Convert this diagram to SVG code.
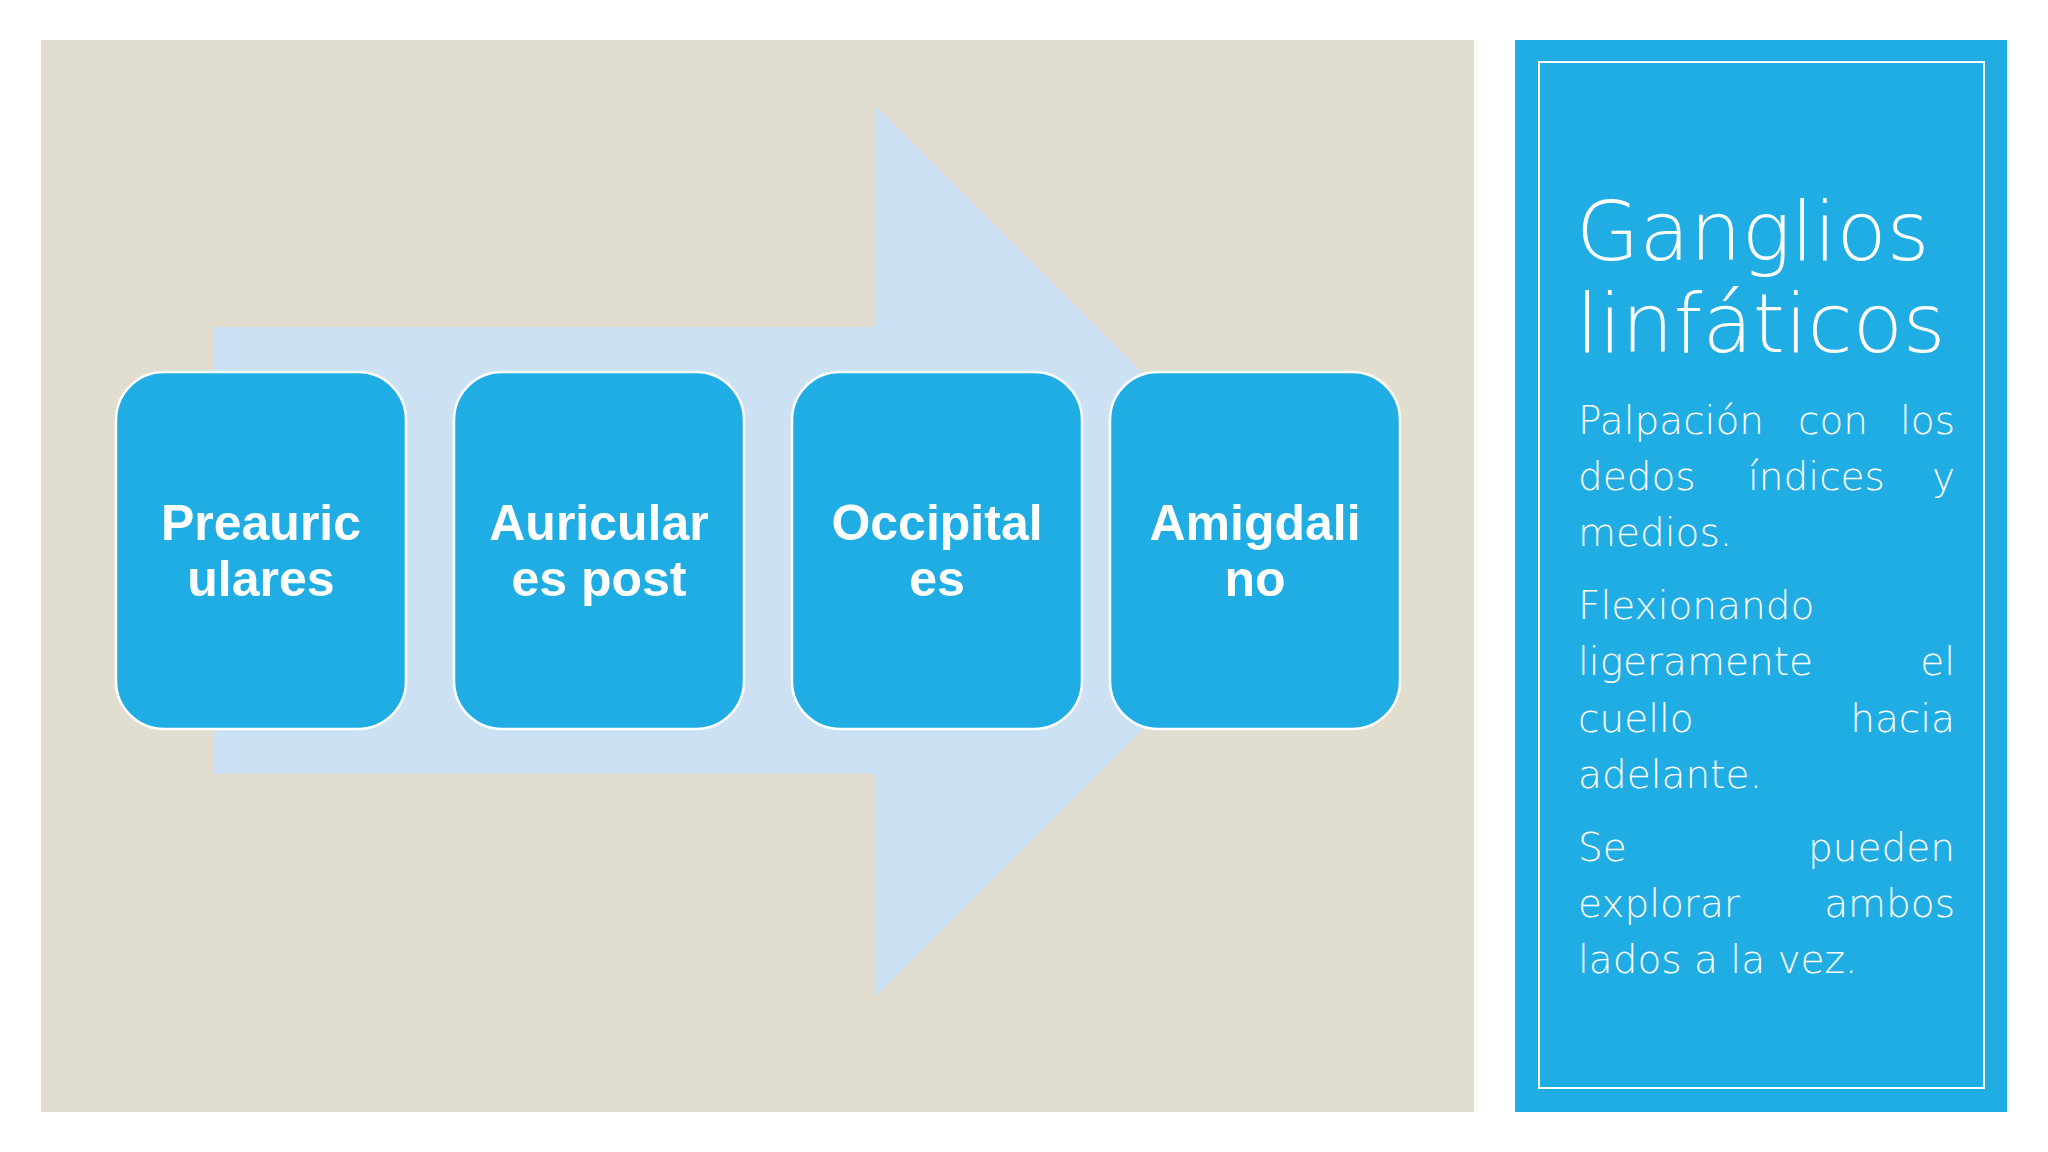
<svg xmlns="http://www.w3.org/2000/svg" width="2048" height="1152" viewBox="0 0 2048 1152">
<style>
.box{fill:#1FADE3;stroke:#FFFFFF;stroke-width:2.5}
.bt{font-family:"Liberation Sans",Arial,sans-serif;font-weight:bold;font-size:50px;fill:#FFFFFF;text-anchor:middle}
.title{font-family:"DejaVu Sans","Liberation Sans",sans-serif;font-weight:200;font-size:82px;fill:#FFFFFF}
.body{font-family:"DejaVu Sans","Liberation Sans",sans-serif;font-weight:200;font-size:39px;fill:#FFFFFF}
.e{text-anchor:end}
</style>
<rect x="0" y="0" width="2048" height="1152" fill="#FFFFFF"/>
<rect id="background" x="41" y="40" width="1433" height="1072" fill="#E1DED0"/>
<g id="connectors">
<polygon id="arrow" points="214,327 875,327 875,105 1321,551 875,997 875,774 214,774" fill="#CCE2F4"/>
</g>
<g id="node1">
<rect class="box" x="116" y="372" width="290" height="357" rx="48" ry="48"/>
<text class="bt" x="261" y="540">Preauric</text>
<text class="bt" x="261" y="596">ulares</text>
</g>
<g id="node2">
<rect class="box" x="454" y="372" width="290" height="357" rx="48" ry="48"/>
<text class="bt" x="599" y="540">Auricular</text>
<text class="bt" x="599" y="596">es post</text>
</g>
<g id="node3">
<rect class="box" x="792" y="372" width="290" height="357" rx="48" ry="48"/>
<text class="bt" x="937" y="540">Occipital</text>
<text class="bt" x="937" y="596">es</text>
</g>
<g id="node4">
<rect class="box" x="1110" y="372" width="290" height="357" rx="48" ry="48"/>
<text class="bt" x="1255" y="540">Amigdali</text>
<text class="bt" x="1255" y="596">no</text>
</g>
<g id="sidepanel">
<rect x="1515" y="40" width="492" height="1072" fill="#1FADE3"/>
<rect x="1539" y="62" width="445" height="1026" fill="none" stroke="#FFFFFF" stroke-width="2"/>
<text class="title" x="1576" y="260">Ganglios</text>
<text class="title" x="1576" y="352">linfáticos</text>
<text class="body" x="1578" y="434">Palpación</text>
<text class="body" x="1798" y="434">con</text>
<text class="body e" x="1955" y="434">los</text>
<text class="body" x="1578" y="490">dedos</text>
<text class="body" x="1748" y="490">índices</text>
<text class="body e" x="1955" y="490">y</text>
<text class="body" x="1578" y="546">medios.</text>
<text class="body" x="1578" y="619">Flexionando</text>
<text class="body" x="1578" y="675">ligeramente</text>
<text class="body e" x="1955" y="675">el</text>
<text class="body" x="1578" y="732">cuello</text>
<text class="body e" x="1955" y="732">hacia</text>
<text class="body" x="1578" y="788">adelante.</text>
<text class="body" x="1578" y="861">Se</text>
<text class="body e" x="1955" y="861">pueden</text>
<text class="body" x="1578" y="917">explorar</text>
<text class="body e" x="1955" y="917">ambos</text>
<text class="body" x="1578" y="973">lados a la vez.</text>
</g>
</svg>
